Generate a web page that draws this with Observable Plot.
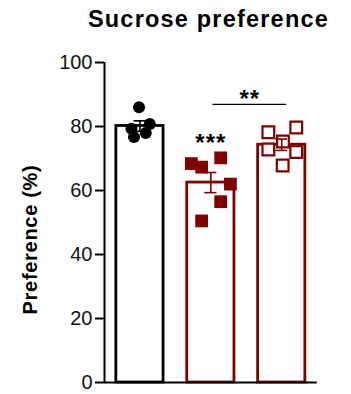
<!DOCTYPE html>
<html><head><meta charset="utf-8">
<script src="https://cdn.jsdelivr.net/npm/d3@7"></script>
<script src="https://cdn.jsdelivr.net/npm/@observablehq/plot@0.6"></script>
<style>html,body{margin:0;padding:0;background:#fff;overflow:hidden;}</style>
</head><body><div id="chart"></div>
<script>
// ---- data ----
const title = "Sucrose preference";
const yLabel = "Preference (%)";
const groups = ["Group 1", "Group 2", "Group 3"];
const yTicks = [0, 20, 40, 60, 80, 100];
const group1Values = [86.0, 79.3, 76.7, 78.0, 80.8];
const group1Jitter = [-0.013, -0.12, -0.084, 0.082, 0.139];
const group2Values = [68.4, 67.3, 70.2, 62.0, 56.5, 50.5];
const group2Jitter = [-0.275, -0.13, 0.139, 0.276, 0.139, -0.13];
const group3Values = [78.2, 79.7, 72.8, 72.0, 67.8, 75.3];
const group3Jitter = [-0.189, 0.205, -0.189, 0.204, 0.013, 0.017];
const starLabels = ["***", "**"];
const starLevels = [74.9, 88.6];
const bracketLevel = 86.9;

// ---- styling ----
const black = "#000000";
const maroon = "#800000";
const colors = [black, maroon, maroon];
const font = "Liberation Sans, Arial, Helvetica, sans-serif";

const valueSets = [group1Values, group2Values, group3Values];
const jitterSets = [group1Jitter, group2Jitter, group3Jitter];
const center = i => i + 0.5;

const stats = groups.map((g, i) => {
  const v = valueSets[i];
  const mean = d3.mean(v);
  const sem = d3.deviation(v) / Math.sqrt(v.length);
  return {group: g, i, mean, sem, color: colors[i]};
});
const pts = i => valueSets[i].map((v, k) => ({i, value: v, jitter: jitterSets[i][k]}));
const caps = stats.flatMap(s => [
  {i: s.i, y: s.mean - s.sem, color: s.color},
  {i: s.i, y: s.mean + s.sem, color: s.color}
]);
const halfBar = 0.333, halfCap = 0.085;

const chart = Plot.plot({
  width: 351,
  height: 394,
  marginLeft: 104,
  marginRight: 34.3,
  marginTop: 62,
  marginBottom: 12,
  style: {fontFamily: font, fontSize: "20px", color: "#000", background: "#fff"},
  x: {domain: [0, 3], axis: null},
  y: {domain: [0, 100]},
  marks: [
    Plot.rect(stats, {x1: d => center(d.i) - halfBar, x2: d => center(d.i) + halfBar, y1: 0, y2: "mean",
      fill: "white", stroke: "color", strokeWidth: 2.8}),
    Plot.dot(pts(0), {x: d => center(d.i) + d.jitter, y: "value", r: 6, fill: black, symbol: "circle"}),
    Plot.dot(pts(1), {x: d => center(d.i) + d.jitter, y: "value", r: 7.2, fill: maroon, symbol: "square"}),
    Plot.dot(pts(2), {x: d => center(d.i) + d.jitter, y: "value", r: 6.6, fill: "white", stroke: maroon, strokeWidth: 2.2, symbol: "square"}),
    Plot.ruleX(stats, {x: d => center(d.i), y1: d => d.mean - d.sem, y2: d => d.mean + d.sem, stroke: "color", strokeWidth: 1.6}),
    Plot.ruleY(caps, {y: "y", x1: d => center(d.i) - halfCap, x2: d => center(d.i) + halfCap, stroke: "color", strokeWidth: 1.6}),
    Plot.ruleX([0], {y1: 0, y2: 100, stroke: black, strokeWidth: 2}),
    Plot.ruleY([0], {x1: 0, x2: 3, stroke: black, strokeWidth: 2}),
    Plot.axisY({ticks: yTicks, tickSize: 9, tickPadding: 3, strokeWidth: 2, label: null, fontSize: 20, fill: "#111"}),
    Plot.text([yLabel], {frameAnchor: "left", textAnchor: "middle", rotate: -90, dx: -68, dy: 17, lineAnchor: "bottom",
      fontWeight: "bold", fontSize: 20, fill: black}),
    Plot.text([title], {frameAnchor: "top", dx: -2.4, dy: -36, lineAnchor: "bottom",
      fontWeight: "bold", fontSize: 23.5, fill: black}),
    Plot.text([starLabels[0]], {x: center(1), y: starLevels[0], fontSize: 24, fontWeight: "bold", fill: black}),
    Plot.text([starLabels[1]], {x: (center(1) + center(2)) / 2 + 0.05, y: starLevels[1], fontSize: 24, fontWeight: "bold", fill: black}),
    Plot.ruleY([bracketLevel], {x1: center(1) + 0.03, x2: center(2) + 0.07, stroke: black, strokeWidth: 1.3})
  ]
});
d3.select(chart).selectAll("text").each(function() {
  const t = this.textContent;
  if (t === title) this.style.letterSpacing = "1.2px";
  if (t === yLabel) this.style.letterSpacing = "0.7px";
  if (t === "***" || t === "**") this.style.letterSpacing = "1px";
});
document.getElementById("chart").appendChild(chart);
</script>
</body></html>
